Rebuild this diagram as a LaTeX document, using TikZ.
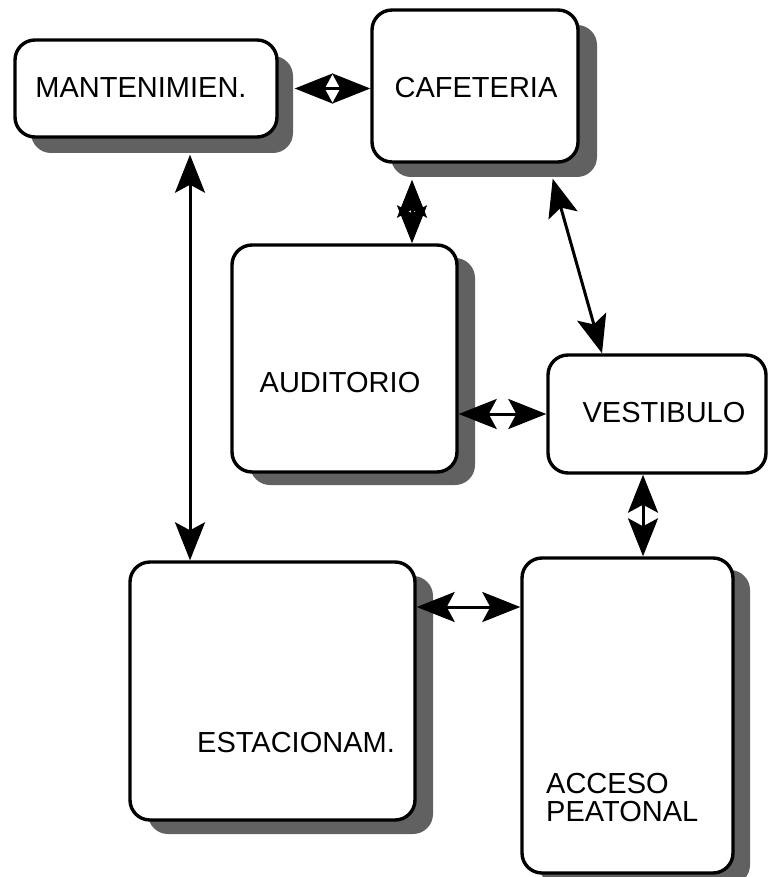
\documentclass[tikz,border=0pt]{standalone}
\usepackage{fontspec}
\setmainfont{Liberation Sans}
\usetikzlibrary{arrows.meta,shadows,calc}
\tikzset{bigtip/.tip={Stealth[length=38pt,width=30pt,inset=8pt]}}
\begin{document}
\begin{tikzpicture}[x=1pt,y=-1pt,
  box/.style 2 args={draw, line width=3.4pt, fill=white, rounded corners=20pt,
    inner sep=0pt, minimum width=#1pt, minimum height=#2pt},
  shadowed/.style 2 args={drop shadow={shadow xshift=#1pt, shadow yshift=-#2pt,
    fill=black!62, opacity=1}},
  lbl/.style={font=\fontsize{29}{28}\selectfont, inner sep=0pt},
  conn/.style={line width=3pt, arrows={bigtip-bigtip}}]
\useasboundingbox (0,0) rectangle (769,877);

% boxes
\node[box={262}{97}, shadowed={16}{16}] (mant) at (146,88.5) {};
\node[box={206}{152}, shadowed={19}{15}] (caf) at (475,86) {};
\node[box={225}{227}, shadowed={18}{13}] (aud) at (344.5,358.5) {};
\node[box={218}{118}] (vest) at (657,414) {};
\node[box={285}{258}, shadowed={18}{14}] (est) at (272.5,691) {};
\node[box={211}{315}, shadowed={17}{12}] (acc) at (627.5,715.5) {};

% labels
\node[lbl] (mantT) at (141,88) {MANTENIMIEN.};
\node[lbl] (cafT) at (476,88) {CAFETERIA};
\node[lbl] (audT) at (340,383) {AUDITORIO};
\node[lbl] (vestT) at (664,413) {VESTIBULO};
\node[lbl] (estT) at (296,743) {ESTACIONAM.};
\node[lbl, align=left, anchor=west] (accT) at (546,798) {ACCESO\\PEATONAL};

% connectors
\draw[conn] ([shift={(16,0)}]mant.east) -- (mant.east -| caf.west);
\draw[conn] ([shift={(44,16)}]mant.south) -- ([shift={(44,0)}]mant.south |- est.north);
\draw[conn] ([shift={(-63,16)}]caf.south) -- ([shift={(-63,0)}]caf.south |- aud.north);
\draw[conn] ([shift={(-27,15)}]caf.south east) -- ([shift={(-55,0)}]vest.north);
\draw[conn] (aud.east |- vest.west) -- (vest.west);
\draw[conn] ([shift={(-14,0)}]vest.south) -- ([shift={(-14,0)}]vest.south |- acc.north);
\draw[conn] ([shift={(0,-84)}]est.east) -- ([shift={(0,-84)}]est.east -| acc.west);
\end{tikzpicture}
\end{document}
